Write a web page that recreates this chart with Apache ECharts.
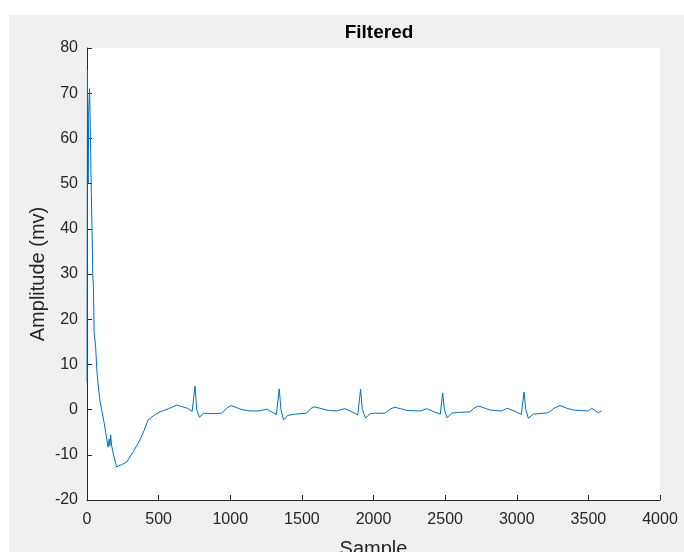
<!DOCTYPE html>
<html>
<head>
<meta charset="utf-8">
<script src="https://cdn.jsdelivr.net/npm/echarts@6/dist/echarts.min.js"></script>
<style>
  html, body { margin: 0; padding: 0; background: #ffffff; }
  #wrap { position: relative; width: 684px; height: 552px; overflow: hidden; background: #ffffff; }
  #figbg { position: absolute; left: 9px; top: 15px; right: 0; bottom: 0; background: #f0f0f0; }
  #chart { position: absolute; left: 0; top: 0; width: 684px; height: 552px; }
</style>
</head>
<body>
<div id="wrap">
  <div id="figbg"></div>
  <div id="chart"></div>
</div>
<script>
// Filtered ECG trace: sample index and amplitude (mV)
const sampleIdx = [
  0, 3, 8, 12, 18, 24, 30, 35, 40, 45, 50, 60, 70, 90, 120, 147, 155, 160, 165, 172, 185, 207,
  240, 277, 320, 370, 400, 426, 470, 510, 570, 626, 660, 700, 734,
  754, 766, 784, 814, 880, 940, 975, 1005, 1040, 1080, 1138, 1200, 1254, 1300, 1322,
  1342, 1354, 1372, 1400, 1450, 1533, 1560, 1585, 1627, 1684, 1740, 1801, 1850, 1890,
  1910, 1922, 1945, 1975, 2010, 2080, 2120, 2150, 2190, 2232, 2325, 2371, 2429, 2466,
  2483, 2495, 2513, 2546, 2600, 2674, 2700, 2732, 2770, 2813, 2895, 2934, 2990, 3032,
  3051, 3063, 3081, 3116, 3220, 3260, 3302, 3350, 3395, 3500, 3523, 3570, 3593
];
const amplitude = [
  6, 75, 50, 66, 71, 60, 48, 40, 30, 27, 17, 14, 8, 2, -3, -8.3, -6.5, -8, -5.6, -8, -10, -12.7,
  -12.2, -11.6, -9.5, -6.7, -4.5, -2.3, -1.2, -0.5, 0.2, 1.0, 0.7, 0.3, -0.4,
  5.2, 0, -1.7, -0.8, -0.9, -0.8, 0.3, 0.9, 0.5, 0.0, -0.3, -0.3, 0.1, -0.7, -1.1,
  4.6, 0, -2.3, -1.3, -1.0, -0.8, 0.2, 0.6, 0.3, -0.2, -0.3, 0.2, -0.5, -1.2,
  4.5, 0, -1.9, -0.9, -0.8, -0.8, 0.2, 0.5, 0.2, -0.2, -0.3, 0.2, -0.6, -1.0,
  3.7, 0, -1.8, -0.8, -0.6, -0.5, 0.3, 0.8, 0.4, -0.1, -0.3, 0.3, -0.4, -1.1,
  3.9, 0, -1.9, -1.0, -0.7, 0.3, 0.9, 0.3, -0.1, -0.3, 0.3, -0.7, -0.3
];
const xTicks = { min: 0, max: 4000, step: 500 };
const yTicks = { min: -20, max: 80, step: 10 };

const points = sampleIdx.map((s, i) => [s, amplitude[i]]);

const FONT = '"Liberation Sans", Arial, Helvetica, sans-serif';
const INK = '#262626';

const chart = echarts.init(document.getElementById('chart'), null, { renderer: 'canvas' });
chart.setOption({
  backgroundColor: 'transparent',
  animation: false,
  title: {
    text: 'Filtered',
    left: 374,
    top: 18,
    textAlign: 'center',
    textStyle: { fontFamily: FONT, fontSize: 19, fontWeight: 'bold', color: '#000000' }
  },
  grid: {
    left: 87, top: 48, right: 24, bottom: 52,
    outerBoundsMode: 'none',
    containLabel: false,
    show: true, backgroundColor: '#ffffff', borderWidth: 0
  },
  xAxis: {
    type: 'value',
    min: xTicks.min, max: xTicks.max, interval: xTicks.step,
    name: 'Sample',
    nameLocation: 'middle',
    nameGap: 39,
    nameMoveOverlap: false,
    nameTextStyle: { fontFamily: FONT, fontSize: 20, color: INK },
    axisLine: { show: true, onZero: false, lineStyle: { color: INK, width: 1 } },
    axisTick: { show: true, inside: true, length: 5, lineStyle: { color: INK } },
    axisLabel: { margin: 12, fontFamily: FONT, fontSize: 16, color: INK, formatter: v => String(v) },
    splitLine: { show: false }
  },
  yAxis: {
    type: 'value',
    min: yTicks.min, max: yTicks.max, interval: yTicks.step,
    name: 'Amplitude (mv)',
    nameLocation: 'middle',
    nameRotate: 90,
    nameGap: 39,
    nameMoveOverlap: false,
    nameTextStyle: { fontFamily: FONT, fontSize: 20, color: INK },
    axisLine: { show: true, onZero: false, lineStyle: { color: INK, width: 1 } },
    axisTick: { show: true, inside: true, length: 5, lineStyle: { color: INK } },
    axisLabel: { margin: 9, fontFamily: FONT, fontSize: 16, color: INK, formatter: v => String(v) },
    splitLine: { show: false }
  },
  series: [{
    type: 'line',
    data: points,
    showSymbol: false,
    smooth: false,
    lineStyle: { color: '#0072BD', width: 1 },
    itemStyle: { color: '#0072BD' }
  }]
});
</script>
</body>
</html>
